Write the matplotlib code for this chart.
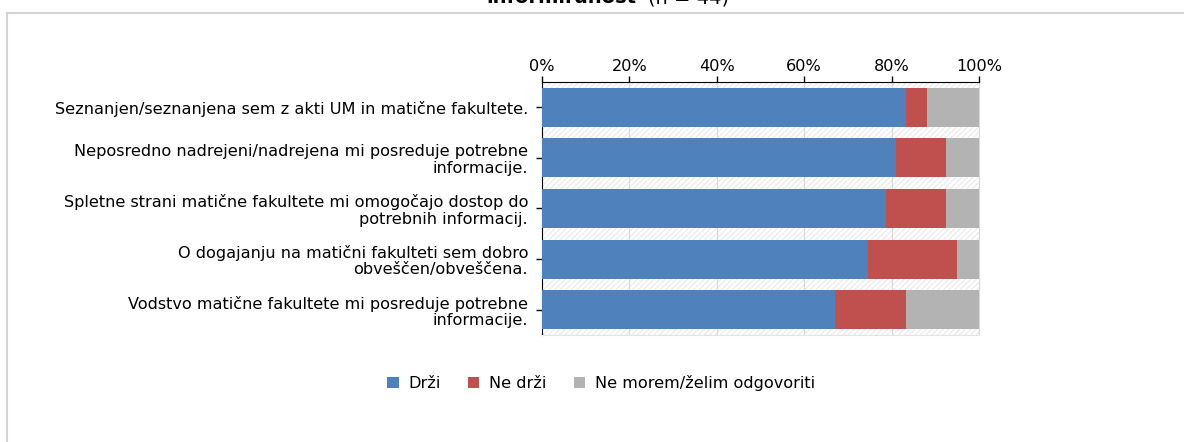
import matplotlib
matplotlib.use("Agg")
import matplotlib.pyplot as plt
from matplotlib.lines import Line2D
from matplotlib.patches import Patch
import matplotlib.ticker as ticker

plt.rcParams["font.family"] = ["DejaVu Sans"]
plt.rcParams["hatch.color"] = "#e6e6e6"
plt.rcParams["hatch.linewidth"] = 0.7

# ── podatki (odstotki) ──────────────────────────────
trditve = [
    "Seznanjen/seznanjena sem z akti UM in matične fakultete.",
    "Neposredno nadrejeni/nadrejena mi posreduje potrebne\ninformacije.",
    "Spletne strani matične fakultete mi omogočajo dostop do\npotrebnih informacij.",
    "O dogajanju na matični fakulteti sem dobro\nobveščen/obveščena.",
    "Vodstvo matične fakultete mi posreduje potrebne\ninformacije.",
]
drzi      = [83.2, 80.9, 78.7, 74.6, 67.0]
ne_drzi   = [4.8, 11.5, 13.7, 20.3, 16.2]
ne_morem  = [12.0, 7.6, 7.6, 5.1, 16.8]
serije    = ["Drži", "Ne drži", "Ne morem/želim odgovoriti"]
x_ticks   = [0, 20, 40, 60, 80, 100]

BLUE, RED, GRAY = "#4F81BD", "#C0504D", "#B3B3B3"
FS = 11.6

fig = plt.figure(figsize=(11.84, 4.42), dpi=100, facecolor="white")
ax = fig.add_axes([542 / 1184, 1 - 335 / 442, 437 / 1184, 253 / 442])

# šrafirano ozadje
ax.patch.set_facecolor("white")
ax.patch.set_hatch("//////")
ax.patch.set_edgecolor("#e6e6e6")
ax.patch.set_linewidth(0)

y = list(range(len(trditve)))
left2 = [a + b for a, b in zip(drzi, ne_drzi)]
h = 0.77
ax.barh(y, drzi, height=h, color=BLUE, zorder=3)
ax.barh(y, ne_drzi, left=drzi, height=h, color=RED, zorder=3)
ax.barh(y, ne_morem, left=left2, height=h, color=GRAY, zorder=3)

ax.set_xlim(0, 100)
ax.set_ylim(len(trditve) - 0.5, -0.5)
ax.set_xticks(x_ticks)
ax.xaxis.set_major_formatter(ticker.FuncFormatter(lambda v, _: f"{int(v)}%"))
ax.xaxis.tick_top()
ax.tick_params(axis="x", direction="out", length=4, width=1, colors="black",
               labelsize=FS, pad=2)
ax.set_yticks(y)
ax.set_yticklabels(trditve, fontsize=FS, linespacing=1.1)
ax.tick_params(axis="y", direction="out", length=4, width=1, colors="black", pad=6)
ax.grid(axis="x", color="#d9d9d9", linewidth=0.8, zorder=1)
ax.set_axisbelow(True)

ax.spines["top"].set_color("black")
ax.spines["left"].set_color("black")
ax.spines["right"].set_color("#d9d9d9")
ax.spines["bottom"].set_color("#e4e4e4")
ax.spines["bottom"].set_linestyle((0, (3, 1)))

# legenda
handles = [Patch(facecolor=c, edgecolor="none") for c in (BLUE, RED, GRAY)]
fig.legend(handles, serije, loc="center", bbox_to_anchor=(601 / 1184, 1 - 383 / 442),
           ncol=3, frameon=False, fontsize=FS, handlelength=0.7, handleheight=0.7,
           handletextpad=0.6, columnspacing=1.7)

# naslov (odrezan na vrhu) in okvir
fig.text(636 / 1184, 1 - 3 / 442, "informiranost", fontsize=14, fontweight="bold",
         ha="right", va="baseline")
fig.text(648 / 1184, 1 - 3 / 442, "(n = 44)", fontsize=14, ha="left", va="baseline")
fig.add_artist(Line2D([7 / 1184, 1], [1 - 13 / 442] * 2, color="#d4d4d4", lw=1.5))
fig.add_artist(Line2D([7 / 1184] * 2, [0, 1 - 13 / 442], color="#d4d4d4", lw=1.5))

fig.savefig("out.png", dpi=100, facecolor="white")
